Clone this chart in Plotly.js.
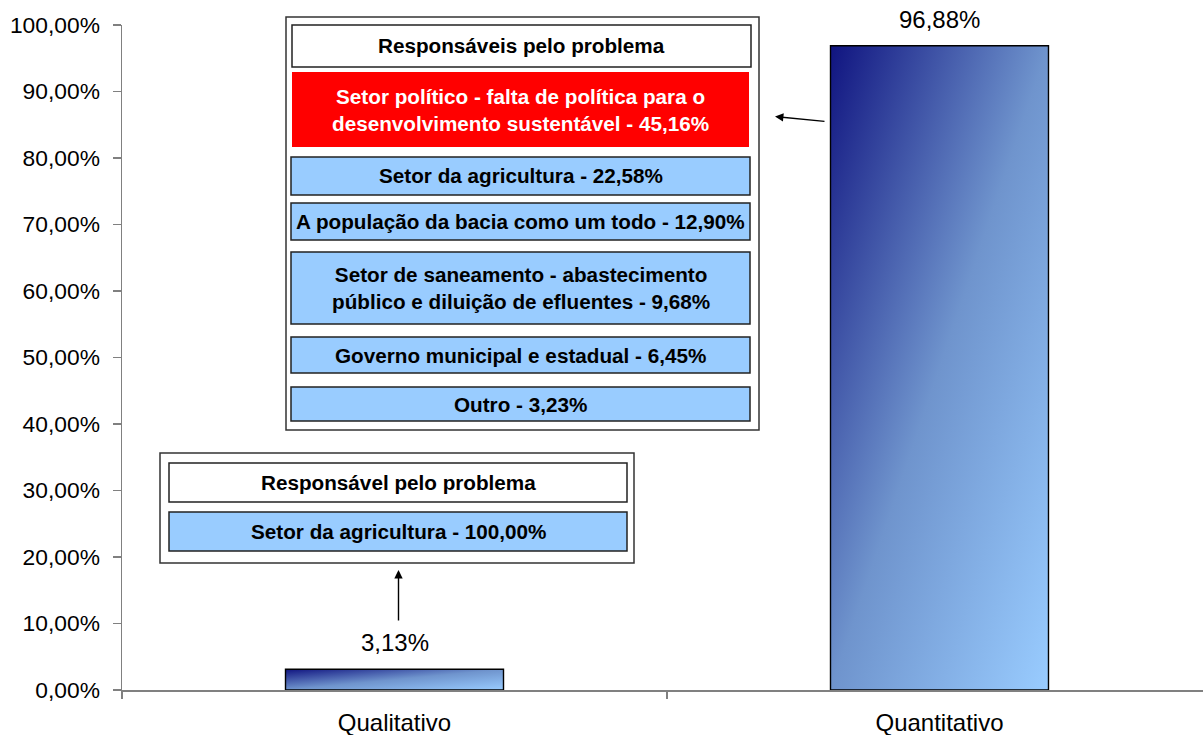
<!DOCTYPE html>
<html>
<head>
<meta charset="utf-8">
<script src="https://cdn.plot.ly/plotly-3.0.1.min.js"></script>
<style>
html,body{margin:0;padding:0;background:#fff;overflow:hidden;}
#chart{width:1203px;height:735px;}
</style>
</head>
<body>
<div id="chart"></div>
<script>
// ---- data ----
const categories = ['Qualitativo', 'Quantitativo'];
const values = [3.13, 96.88];

const quantTitle = 'Responsáveis pelo problema';
const quantLabels = [
  'Setor político - falta de política para o|desenvolvimento sustentável',
  'Setor da agricultura',
  'A população da bacia como um todo',
  'Setor de saneamento - abastecimento|público e diluição de efluentes',
  'Governo municipal e estadual',
  'Outro'
];
const quantPcts = [45.16, 22.58, 12.90, 9.68, 6.45, 3.23];

const qualTitle = 'Responsável pelo problema';
const qualLabels = ['Setor da agricultura'];
const qualPcts = [100.00];

// ---- helpers (pixel layout -> paper coords) ----
const ML = 122, MT = 25, PW = 1081, PH = 665;
const px = x => (x - ML) / PW;
const py = y => (MT + PH - y) / PH;
const fmt = v => v.toFixed(2).replace('.', ',') + '%';
const FONT = 'Liberation Sans, Arial, Helvetica, sans-serif';

const shapes = [];
const annotations = [];

function box(x0, y0, x1, y1, fill, lineColor, text, textColor) {
  shapes.push({type: 'rect', xref: 'paper', yref: 'paper', layer: 'above',
    x0: px(x0), x1: px(x1), y0: py(y1), y1: py(y0),
    fillcolor: fill, line: {color: lineColor, width: lineColor ? 1.5 : 0}});
  if (text) {
    annotations.push({xref: 'paper', yref: 'paper', x: px((x0 + x1) / 2), y: py((y0 + y1) / 2),
      xanchor: 'center', yanchor: 'middle', showarrow: false,
      text: '<b>' + text + '</b>', font: {family: FONT, size: 20.7, color: textColor || '#000'}});
  }
}

// big box (Quantitativo)
box(286, 17, 759, 430, '#ffffff', '#333333');
box(292, 25, 751, 67, '#ffffff', '#222222', quantTitle);
const quantRows = [[72, 147], [157, 195], [203, 240], [252, 324], [337, 373], [387, 421]];
quantLabels.forEach((lab, i) => {
  const t = lab.replace('|', '<br>') + ' - ' + fmt(quantPcts[i]);
  const red = i === 0;
  box(red ? 292 : 291, quantRows[i][0], red ? 749 : 750, quantRows[i][1],
      red ? '#ff0000' : '#99ccff', red ? null : '#222222', t, red ? '#ffffff' : '#000000');
});

// small box (Qualitativo)
box(160, 453, 634, 563, '#ffffff', '#333333');
box(169, 463, 627, 502, '#ffffff', '#222222', qualTitle);
qualLabels.forEach((lab, i) => {
  box(169, 512, 627, 551, '#99ccff', '#222222', lab + ' - ' + fmt(qualPcts[i]));
});

// arrows
annotations.push({xref: 'paper', yref: 'paper', x: px(775), y: py(116.5), ax: 51, ay: 5,
  text: '', showarrow: true, arrowhead: 2, arrowsize: 1.2, arrowwidth: 1.4, arrowcolor: '#000',
  standoff: 0, startstandoff: 0});
annotations.push({xref: 'paper', yref: 'paper', x: px(398.5), y: py(570), ax: 0, ay: 52,
  text: '', showarrow: true, arrowhead: 2, arrowsize: 1.2, arrowwidth: 1.4, arrowcolor: '#000',
  standoff: 0, startstandoff: 0});

// value labels
categories.forEach((c, i) => {
  annotations.push({x: c, y: values[i], xref: 'x', yref: 'y', xanchor: 'center', yanchor: 'bottom',
    yshift: 11, showarrow: false, text: fmt(values[i]), font: {family: FONT, size: 24, color: '#000'}});
});

const trace = {
  type: 'bar', x: categories, y: values, width: 0.4,
  marker: {color: '#5a7cc0', line: {color: '#000000', width: 1.4}},
  hoverinfo: 'none', showlegend: false
};

const layout = {
  width: 1203, height: 735,
  margin: {l: ML, r: 1203 - ML - PW, t: MT, b: 735 - MT - PH, pad: 0},
  paper_bgcolor: '#ffffff', plot_bgcolor: '#ffffff',
  separators: ',.',
  font: {family: FONT, color: '#000'},
  xaxis: {type: 'category', range: [-0.5, 1.4835], tickson: 'boundaries',
    ticks: 'outside', ticklen: 7, tickcolor: '#808080', tickwidth: 1.5,
    showline: true, linecolor: '#808080', linewidth: 1.5, showgrid: false, zeroline: false,
    tickfont: {family: FONT, size: 24, color: '#000'}, ticklabelstandoff: 11, fixedrange: true},
  yaxis: {range: [0, 100], dtick: 10, tick0: 0, tickformat: '.2f', ticksuffix: '%',
    ticks: 'outside', ticklen: 8, tickcolor: '#808080', tickwidth: 1.5,
    showline: true, linecolor: '#808080', linewidth: 1.5, showgrid: false, zeroline: false,
    tickfont: {family: FONT, size: 22.8, color: '#000'}, ticklabelstandoff: 8, fixedrange: true},
  shapes: shapes,
  annotations: annotations
};

Plotly.newPlot('chart', [trace], layout, {displayModeBar: false, staticPlot: true}).then(gd => {
  // apply the diagonal navy -> light-blue gradient to the bars
  const svg = gd.querySelector('svg.main-svg');
  const NS = 'http://www.w3.org/2000/svg';
  let defs = svg.querySelector('defs');
  if (!defs) { defs = document.createElementNS(NS, 'defs'); svg.insertBefore(defs, svg.firstChild); }
  const g = document.createElementNS(NS, 'linearGradient');
  g.setAttribute('id', 'barGrad');
  g.setAttribute('x1', '0'); g.setAttribute('y1', '0');
  g.setAttribute('x2', '1'); g.setAttribute('y2', '1');
  [['0', '#101480'], ['0.5', '#6f94cd'], ['1', '#99ccff']].forEach(([o, c]) => {
    const s = document.createElementNS(NS, 'stop');
    s.setAttribute('offset', o); s.setAttribute('stop-color', c);
    g.appendChild(s);
  });
  defs.appendChild(g);
  gd.querySelectorAll('.barlayer .point path').forEach(p => { p.style.fill = 'url(#barGrad)'; });
});
</script>
</body>
</html>
